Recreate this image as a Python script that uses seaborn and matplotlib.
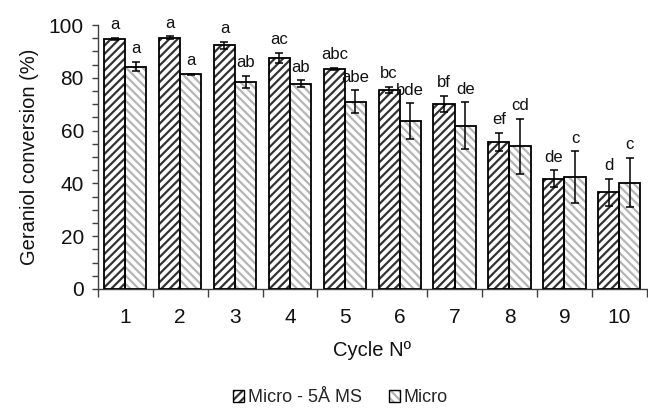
import matplotlib
matplotlib.use("Agg")
import matplotlib.pyplot as plt
import seaborn as sns
import pandas as pd
import numpy as np
from matplotlib.patches import Patch, Rectangle
from matplotlib.legend_handler import HandlerTuple

cycles = ["1", "2", "3", "4", "5", "6", "7", "8", "9", "10"]
series_names = ["Micro - 5Å MS", "Micro"]
ms_values = [94.8, 95.2, 92.4, 87.6, 83.3, 75.4, 70.2, 55.8, 41.8, 36.6]
ms_errors = [0.3, 0.5, 1.3, 1.9, 0.4, 1.3, 3.0, 3.4, 3.1, 5.2]
micro_values = [84.2, 81.4, 78.5, 77.8, 71.0, 63.6, 61.9, 54.0, 42.3, 40.3]
micro_errors = [1.8, 0.2, 2.2, 1.2, 4.3, 6.7, 8.9, 10.5, 9.8, 9.3]
ms_letters = ["a", "a", "a", "ac", "abc", "bc", "bf", "ef", "de", "d"]
micro_letters = ["a", "a", "ab", "ab", "abe", "bde", "de", "cd", "c", "c"]

sns.set_theme(style="white")
plt.rcParams["font.family"] = ["Liberation Sans", "DejaVu Sans"]
plt.rcParams["hatch.linewidth"] = 1.6

df = pd.DataFrame({
    "Cycle": cycles * 2,
    "Series": [series_names[0]] * len(cycles) + [series_names[1]] * len(cycles),
    "Value": ms_values + micro_values,
})

fig = plt.figure(figsize=(6.48, 4.08), dpi=100)
ax = fig.add_axes([0.151, 0.2917, 0.847, 0.647])

sns.barplot(data=df, x="Cycle", y="Value", hue="Series", order=cycles,
            hue_order=series_names, errorbar=None, width=0.77, gap=0,
            palette=["white", "white"], ax=ax, legend=False)

hatch_styles = [("////", "#333333"), ("\\\\\\\\", "#b5b5b5")]
vals = [ms_values, micro_values]
errs = [ms_errors, micro_errors]
labs = [ms_letters, micro_letters]
patches = [p for p in ax.patches if isinstance(p, Rectangle)]
n = len(cycles)
for s in range(2):
    hatch, hcol = hatch_styles[s]
    centers = []
    for i in range(n):
        p = patches[s * n + i]
        p.set_hatch(hatch)
        p.set_edgecolor(hcol)
        p.set_facecolor("white")
        p.set_linewidth(0)
        outline = Rectangle((p.get_x(), p.get_y()), p.get_width(), p.get_height(),
                            fill=False, edgecolor="black", linewidth=1.3, zorder=3)
        ax.add_patch(outline)
        centers.append(p.get_x() + p.get_width() / 2)
    ax.errorbar(centers, vals[s], yerr=errs[s], fmt="none", ecolor="black",
                elinewidth=1.1, capsize=3.2, capthick=1.1, zorder=4)
    for i in range(n):
        ax.annotate(labs[s][i], (centers[i], vals[s][i] + errs[s][i]),
                    xytext=(0, 4), textcoords="offset points",
                    ha="center", va="bottom", fontsize=12, color="#111111")

ax.set_ylim(0, 100)
ax.set_xlim(-0.5, 9.5)
ax.set_yticks(np.arange(0, 101, 20))
ax.set_yticks(np.arange(0, 101, 5), minor=True)
ax.set_xticks(np.arange(-0.5, 10, 1), minor=True)
ax.tick_params(axis="y", which="both", direction="out", length=4, width=1,
               color="#404040", left=True, labelsize=15, pad=6, labelcolor="#111111")
ax.tick_params(axis="x", which="major", length=0, labelsize=15, pad=14, labelcolor="#111111")
ax.tick_params(axis="x", which="minor", direction="out", length=6, width=1,
               color="#404040", bottom=True)
for side in ["top", "right"]:
    ax.spines[side].set_visible(False)
for side in ["left", "bottom"]:
    ax.spines[side].set_color("#404040")
    ax.spines[side].set_linewidth(1)
ax.set_ylabel("Geraniol conversion (%)", fontsize=14.5, color="#111111", labelpad=7)
ax.set_xlabel("Cycle Nº", fontsize=14.5, color="#111111", labelpad=10)

handles = []
for hatch, hcol in hatch_styles:
    fillp = Patch(facecolor="white", edgecolor=hcol, hatch=hatch, linewidth=0)
    edgep = Patch(facecolor="none", edgecolor="black", linewidth=1.0)
    handles.append((fillp, edgep))
leg = fig.legend(handles, series_names, loc="center", bbox_to_anchor=(0.525, 0.025),
                 ncol=2, frameon=False, fontsize=13, handlelength=0.6, handleheight=0.6,
                 handletextpad=0.2, columnspacing=1.5, borderpad=0,
                 handler_map={tuple: HandlerTuple(ndivide=1, pad=0)})

fig.savefig("out.png", dpi=100)
